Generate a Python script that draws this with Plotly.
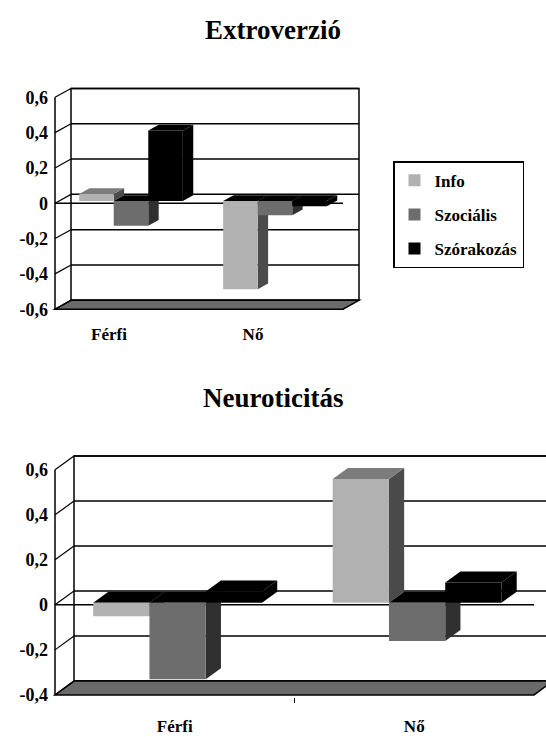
import plotly.graph_objects as go

W, H = 546, 737
SERIF = "Liberation Serif"

# ---- data -------------------------------------------------------------
categories = ["Férfi", "Nő"]
series_names = ["Info", "Szociális", "Szórakozás"]

extro_info = [0.04, -0.50]
extro_szoc = [-0.14, -0.08]
extro_szor = [0.40, -0.03]

neuro_info = [-0.06, 0.55]
neuro_szoc = [-0.34, -0.17]
neuro_szor = [0.05, 0.09]

extro_ticks = [-0.6, -0.4, -0.2, 0, 0.2, 0.4, 0.6]
neuro_ticks = [-0.4, -0.2, 0, 0.2, 0.4, 0.6]

# ---- styling ----------------------------------------------------------
FRONT = ["#b1b1b1", "#6d6d6d", "#000000"]
SIDE = ["#4b4b4b", "#303030", "#000000"]
TOP = ["#7c7c7c", "#555555", "#000000"]
NEG_TOP = "#000000"
FLOOR = "#6a6a6a"


def bold(s):
    return f"<b>{s}</b>"


def tick_text(v):
    if abs(v) < 1e-9:
        return bold("0")
    return bold(f"{v:.1f}".replace(".", ","))


# pixel geometry of each 3-D panel (front plane scale + depth offset)
panels = [
    dict(title="Extroverzió", title_y=30, series=[extro_info, extro_szoc, extro_szor],
         ticks=extro_ticks, x0=55, ux=144, zero=205.5, vy=178.5, dx=16, dy=9,
         dom_x=(50, 362), dom_y=(86, 314.6), d0=0.25, d1=0.9, bw=0.24,
         label_shift=-18, label_standoff=11, sep_tick=False),
    dict(title="Neuroticitás", title_y=402, series=[neuro_info, neuro_szoc, neuro_szor],
         ticks=neuro_ticks, x0=55, ux=239.5, zero=611.5, vy=227.5, dx=19, dy=14,
         dom_x=(50, 546), dom_y=(457, 704.5), d0=0.15, d1=0.95, bw=0.235,
         label_shift=0, label_standoff=17, sep_tick=True),
]

fig = go.Figure()
shapes = []
annotations = []
layout_axes = {}

for pi, p in enumerate(panels):
    sfx = "" if pi == 0 else str(pi + 1)
    xref, yref = "x" + sfx, "y" + sfx
    DU = p["dx"] / p["ux"]      # depth offset in category units
    DV = p["dy"] / p["vy"]      # depth offset in value units
    vmin, vmax = min(p["ticks"]), max(p["ticks"])
    ncat = len(categories)

    def P(u, v, d, DU=DU, DV=DV):
        return (u + d * DU, v + d * DV)

    def path(pts):
        return "M " + " L ".join(f"{x:.5f},{y:.5f}" for x, y in pts) + " Z"

    def seg(a, b, width=1.5, color="black"):
        shapes.append(dict(type="line", xref=xref, yref=yref,
                           x0=a[0], y0=a[1], x1=b[0], y1=b[1],
                           line=dict(color=color, width=width), layer="below"))

    # back wall
    shapes.append(dict(type="path", xref=xref, yref=yref,
                       path=path([P(0, vmin, 1), P(ncat, vmin, 1), P(ncat, vmax, 1), P(0, vmax, 1)]),
                       fillcolor="white", line=dict(color="black", width=1.5), layer="below"))
    # gridlines on the back wall
    for v in p["ticks"]:
        seg(P(0, v, 1), P(ncat, v, 1))
    # floor
    shapes.append(dict(type="path", xref=xref, yref=yref,
                       path=path([P(0, vmin, 0), P(ncat, vmin, 0), P(ncat, vmin, 1), P(0, vmin, 1)]),
                       fillcolor=FLOOR, line=dict(color="black", width=1.5), layer="below"))
    # left side wall: value axis and its depth lines
    seg(P(0, vmin, 0), P(0, vmax, 0))
    for v in p["ticks"]:
        seg(P(0, v, 0), P(0, v, 1), width=1.2)
    # category axis at zero
    seg(P(0, 0, 0), P(ncat, 0, 0))

    # bar side and top faces, drawn left to right
    d0, d1, bw = p["d0"], p["d1"], p["bw"]
    for ci in range(ncat):
        for si, vals in enumerate(p["series"]):
            v = vals[ci]
            xl = ci + 0.5 + (si - 1.5) * bw
            xr = xl + bw
            lo, hi = min(0, v), max(0, v)
            shapes.append(dict(type="path", xref=xref, yref=yref,
                               path=path([P(xr, lo, d0), P(xr, hi, d0), P(xr, hi, d1), P(xr, lo, d1)]),
                               fillcolor=SIDE[si], line=dict(width=0), layer="below"))
            shapes.append(dict(type="path", xref=xref, yref=yref,
                               path=path([P(xl, hi, d0), P(xr, hi, d0), P(xr, hi, d1), P(xl, hi, d1)]),
                               fillcolor=TOP[si] if v > 0 else NEG_TOP,
                               line=dict(width=0), layer="below"))

    # bar front faces
    for si, vals in enumerate(p["series"]):
        fig.add_trace(go.Bar(
            x=[ci + 0.5 + (si - 1) * bw + d0 * DU for ci in range(ncat)],
            y=vals, base=d0 * DV, width=bw,
            marker=dict(color=FRONT[si], line=dict(width=0)),
            name=bold(series_names[si]), legendgroup=series_names[si],
            showlegend=(pi == 0), xaxis=xref, yaxis=yref,
            hovertemplate="%{y}<extra>" + series_names[si] + "</extra>",
        ))

    # axes mapped so that the front plane matches the pixel geometry
    dl, dr = p["dom_x"]
    dt, db = p["dom_y"]
    xr_ = [(dl - p["x0"]) / p["ux"], (dr - p["x0"]) / p["ux"]]
    yr_ = [(p["zero"] - db) / p["vy"], (p["zero"] - dt) / p["vy"]]
    xaxis = dict(domain=[dl / W, dr / W], range=xr_, anchor=yref,
                 showgrid=False, zeroline=False, showline=False,
                 tickmode="array", tickvals=[c + 0.5 for c in range(ncat)],
                 ticktext=[bold(c) for c in categories],
                 ticks="", tickfont=dict(family=SERIF, size=17, color="black"),
                 ticklabelshift=p["label_shift"], ticklabelstandoff=p["label_standoff"],
                 fixedrange=True)
    if p["sep_tick"]:
        xaxis["minor"] = dict(tickmode="array", tickvals=[c for c in range(1, ncat)],
                              ticks="outside", ticklen=5, tickcolor="black", tickwidth=1.2)
    yaxis = dict(domain=[1 - db / H, 1 - dt / H], range=yr_, anchor=xref,
                 showgrid=False, zeroline=False, showline=False,
                 tickmode="array", tickvals=p["ticks"],
                 ticktext=[tick_text(v) for v in p["ticks"]],
                 ticks="", tickfont=dict(family=SERIF, size=18, color="black"),
                 ticklabelstandoff=1, fixedrange=True)
    layout_axes["xaxis" + sfx] = xaxis
    layout_axes["yaxis" + sfx] = yaxis

    annotations.append(dict(text=bold(p["title"]), xref="paper", yref="paper",
                            x=0.5, y=1 - p["title_y"] / H, xanchor="center", yanchor="middle",
                            showarrow=False, font=dict(family=SERIF, size=27, color="black")))

fig.update_layout(
    width=W, height=H, autosize=False,
    margin=dict(l=0, r=0, t=0, b=0),
    font=dict(family=SERIF, color="black"),
    paper_bgcolor="white", plot_bgcolor="rgba(0,0,0,0)",
    barmode="overlay",
    shapes=shapes, annotations=annotations,
    legend=dict(x=393 / W, y=1 - 163 / H, xanchor="left", yanchor="top",
                bgcolor="white", bordercolor="black", borderwidth=1.5,
                font=dict(family=SERIF, size=17, color="black"),
                traceorder="grouped", tracegroupgap=9, itemwidth=30,
                entrywidth=105, entrywidthmode="pixels"),
    **layout_axes,
)

fig.write_html("out.html")
